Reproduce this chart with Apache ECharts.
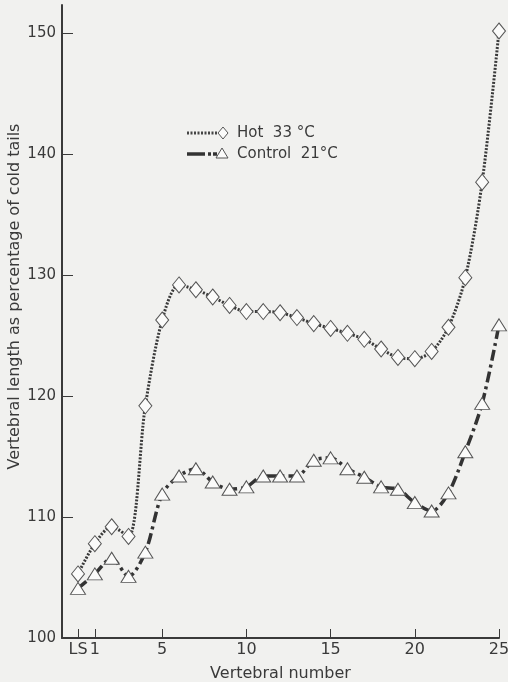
<!DOCTYPE html>
<html>
<head>
<meta charset="utf-8">
<script src="https://cdn.jsdelivr.net/npm/echarts@6/dist/echarts.min.js"></script>
<style>
  html, body { margin: 0; padding: 0; background: #f1f1ef; }
  #chart { width: 508px; height: 682px; }
</style>
</head>
<body>
<div id="chart"></div>
<script>
// vertebra positions: 0 = LS, then 1..25
const vertebrae = [0, 1, 2, 3, 4, 5, 6, 7, 8, 9, 10, 11, 12, 13, 14, 15, 16, 17, 18, 19, 20, 21, 22, 23, 24, 25];
const hot = [105.3, 107.8, 109.2, 108.4, 119.2, 126.3, 129.2, 128.8, 128.2, 127.5, 127.0, 127.0, 126.9, 126.5,
  126.0, 125.6, 125.2, 124.7, 123.9, 123.2, 123.1, 123.7, 125.7, 129.8, 137.7, 150.2];
const control = [104.1, 105.3, 106.6, 105.1, 107.1, 111.9, 113.4, 114.0, 112.9, 112.3, 112.5, 113.4, 113.4, 113.4,
  114.7, 114.9, 114.0, 113.3, 112.5, 112.3, 111.2, 110.5, 112.0, 115.4, 119.4, 125.9];
const xTicks = [0, 1, 5, 10, 15, 20, 25];
const yTicks = [100, 110, 120, 130, 140, 150];
const legendNames = ["Hot  33 \u00b0C", "Control  21\u00b0C"];

const ink = "#3a3a3a";
const font = "DejaVu Sans";
const markerFill = "#fbfbfa";

const chart = echarts.init(document.getElementById("chart"));

// hand drawn legend: line sample with the marker at its right end
const legendX = 187;
const legendRows = [133, 154];
const legendGraphic = [
  {
    type: "line",
    shape: { x1: legendX, y1: legendRows[0], x2: legendX + 31, y2: legendRows[0] },
    style: { stroke: "#444", lineWidth: 3, lineDash: [2, 1.5] },
  },
  {
    type: "polygon",
    shape: { points: [[223, legendRows[0] - 6], [228, legendRows[0]], [223, legendRows[0] + 6], [218, legendRows[0]]] },
    style: { fill: markerFill, stroke: "#555", lineWidth: 1 },
  },
  {
    type: "line",
    shape: { x1: legendX, y1: legendRows[1], x2: legendX + 18, y2: legendRows[1] },
    style: { stroke: "#333", lineWidth: 3.5 },
  },
  {
    type: "line",
    shape: { x1: legendX + 21, y1: legendRows[1], x2: legendX + 24, y2: legendRows[1] },
    style: { stroke: "#333", lineWidth: 3.5 },
  },
  {
    type: "line",
    shape: { x1: legendX + 26, y1: legendRows[1], x2: legendX + 30, y2: legendRows[1] },
    style: { stroke: "#333", lineWidth: 3.5 },
  },
  {
    type: "polygon",
    shape: { points: [[222, legendRows[1] - 6], [228, legendRows[1] + 4], [216, legendRows[1] + 4]] },
    style: { fill: markerFill, stroke: "#555", lineWidth: 1 },
  },
].concat(legendNames.map((name, i) => ({
  type: "text",
  x: 237,
  y: legendRows[i],
  style: { text: name, fill: ink, font: "15px 'DejaVu Sans'", verticalAlign: "middle" },
})));

const option = {
  backgroundColor: "#f1f1ef",
  animation: false,
  grid: { left: 62, right: 9, top: 5, bottom: 44, containLabel: false, outerBoundsMode: "none" },
  graphic: legendGraphic,
  xAxis: {
    type: "value",
    min: -0.95,
    max: 25,
    name: "Vertebral number",
    nameLocation: "middle",
    nameGap: 28,
    nameTextStyle: { color: ink, fontFamily: font, fontSize: 16 },
    splitLine: { show: false },
    axisLine: { onZero: false, lineStyle: { color: ink, width: 2 } },
    axisTick: {
      inside: true,
      length: 9,
      customValues: xTicks,
      lineStyle: { color: ink, width: 1 },
    },
    axisLabel: {
      customValues: xTicks,
      color: ink,
      fontFamily: font,
      fontSize: 16,
      margin: 4,
      formatter: (v) => (v === 0 ? "LS" : String(v)),
    },
  },
  yAxis: {
    type: "value",
    min: 100,
    max: 152.35,
    name: "Vertebral length as percentage of cold tails",
    nameLocation: "middle",
    nameGap: 39,
    nameMoveOverlap: false,
    nameTextStyle: { color: ink, fontFamily: font, fontSize: 16, padding: [0, 0, 0, 50] },
    splitLine: { show: false },
    axisLine: { onZero: false, lineStyle: { color: ink, width: 2 } },
    axisTick: {
      inside: true,
      length: 11,
      customValues: yTicks,
      lineStyle: { color: ink, width: 1 },
    },
    axisLabel: {
      customValues: yTicks,
      color: ink,
      fontFamily: font,
      fontSize: 15,
      margin: 6,
    },
  },
  series: [
    {
      name: legendNames[0],
      type: "line",
      data: vertebrae.map((v, i) => [v, hot[i]]),
      smooth: 0.3,
      symbol: "diamond",
      symbolSize: [13, 16],
      itemStyle: { color: markerFill, borderColor: "#555", borderWidth: 1 },
      lineStyle: { color: "#3a3a3a", width: 3, type: [2, 1.5] },
      z: 3,
    },
    {
      name: legendNames[1],
      type: "line",
      data: vertebrae.map((v, i) => [v, control[i]]),
      smooth: 0.3,
      symbol: "triangle",
      symbolSize: [15, 12],
      itemStyle: { color: markerFill, borderColor: "#555", borderWidth: 1 },
      lineStyle: { color: "#333", width: 3.5, type: [11, 4, 3, 4] },
      z: 2,
    },
  ],
};

chart.setOption(option);
</script>
</body>
</html>
